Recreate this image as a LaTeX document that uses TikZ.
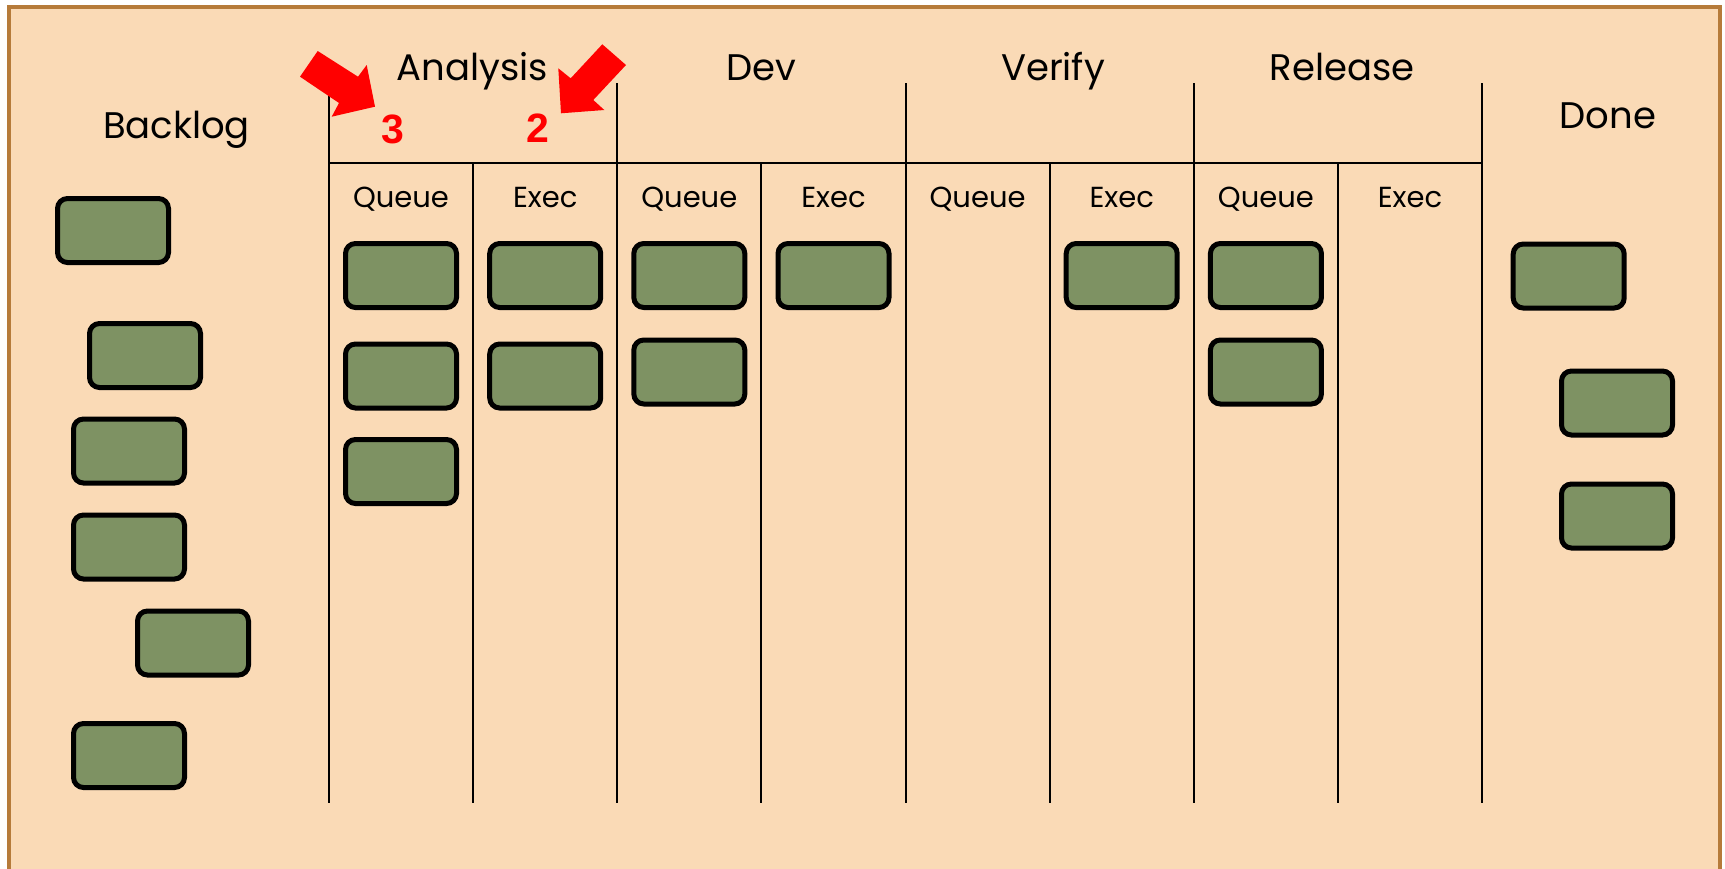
\documentclass[tikz,border=0pt]{standalone}
\usepackage{fontspec}
\setmainfont{Poppins}
\newfontfamily\numfont{Liberation Sans}
\definecolor{boardbg}{RGB}{250,218,182}
\definecolor{boardedge}{RGB}{182,123,58}
\definecolor{cardgreen}{RGB}{126,146,99}
\definecolor{arrowred}{RGB}{255,0,0}
\tikzset{
  card/.style={draw=black, fill=cardgreen, line width=5pt, rounded corners=10pt,
    minimum width=111pt, minimum height=64pt, inner sep=0pt},
  colline/.style={draw=black, line width=2pt},
  head/.style={font=\fontsize{37}{41}\selectfont, anchor=base, inner sep=0pt},
  sub/.style={font=\fontsize{29}{33}\selectfont, anchor=base, inner sep=0pt},
  limit/.style={font=\numfont\bfseries\fontsize{41}{44}\selectfont, text=arrowred, anchor=base, inner sep=0pt},
  bigarrow/.style={fill=arrowred, draw=none}
}
\begin{document}
\begin{tikzpicture}[x=1pt,y=-1pt]
\useasboundingbox (0,0) rectangle (1725,868);
% board
\begin{scope}
\clip (0,0) rectangle (1725,868);
\draw[draw=boardedge, fill=boardbg, line width=4pt] (9,7) rectangle (1720,900);
\end{scope}
% column lines
\foreach \x in {329,617.3,905.5,1193.8,1482} {\draw[colline] (\x,83) -- (\x,803);}
\foreach \x in {473.1,761.4,1049.6,1337.9} {\draw[colline] (\x,163) -- (\x,803);}
\draw[colline] (329,163) -- (1482,163);
% headers
\node[head] (hback) at (176.5,138) {Backlog};
\node[head] (hana) at (472.5,80) {Analysis};
\node[head] (hdev) at (761.4,80) {Dev};
\node[head] (hver) at (1053,80) {Verify};
\node[head] (hrel) at (1342,80) {Release};
\node[head] (hdone) at (1608,128) {Done};
% sub headers
\node[sub] (s1) at (401,207) {Queue};
\node[sub] (s2) at (545.2,207) {Exec};
\node[sub] (s3) at (689.3,207) {Queue};
\node[sub] (s4) at (833.5,207) {Exec};
\node[sub] (s5) at (977.6,207) {Queue};
\node[sub] (s6) at (1121.7,207) {Exec};
\node[sub] (s7) at (1265.9,207) {Queue};
\node[sub] (s8) at (1410,207) {Exec};
% WIP limits
\node[limit] (lim3) at (392.5,143) {3};
\node[limit] (lim2) at (537.5,142) {2};
\fill[bigarrow] (317.7,51) -- (358,76.7) -- (366.7,65) -- (375,106.7) -- (331.7,116.7) -- (339,103) -- (300,76.7) -- cycle;
\fill[bigarrow] (602.3,44.3) -- (626,65) -- (593.3,100) -- (604.3,110) -- (561,113.3) -- (558.3,68.3) -- (570.7,78.3) -- cycle;
% cards
\node[card] (b1) at (113,230.5) {};
\node[card] (b2) at (145,355.5) {};
\node[card] (b3) at (129,451) {};
\node[card] (b4) at (129,547) {};
\node[card] (b5) at (193,643) {};
\node[card] (b6) at (129,755.5) {};
\node[card] (aq1) at (401,275.5) {};
\node[card] (aq2) at (401,376) {};
\node[card] (aq3) at (401,471.5) {};
\node[card] (ae1) at (545.2,275.5) {};
\node[card] (ae2) at (545.2,376) {};
\node[card] (dq1) at (689.3,275.5) {};
\node[card] (dq2) at (689.3,372) {};
\node[card] (de1) at (833.5,275.5) {};
\node[card] (ve1) at (1121.7,275.5) {};
\node[card] (rq1) at (1265.9,275.5) {};
\node[card] (rq2) at (1265.9,372) {};
\node[card] (d1) at (1568.7,276) {};
\node[card] (d2) at (1617,403) {};
\node[card] (d3) at (1617,516) {};
\end{tikzpicture}
\end{document}
